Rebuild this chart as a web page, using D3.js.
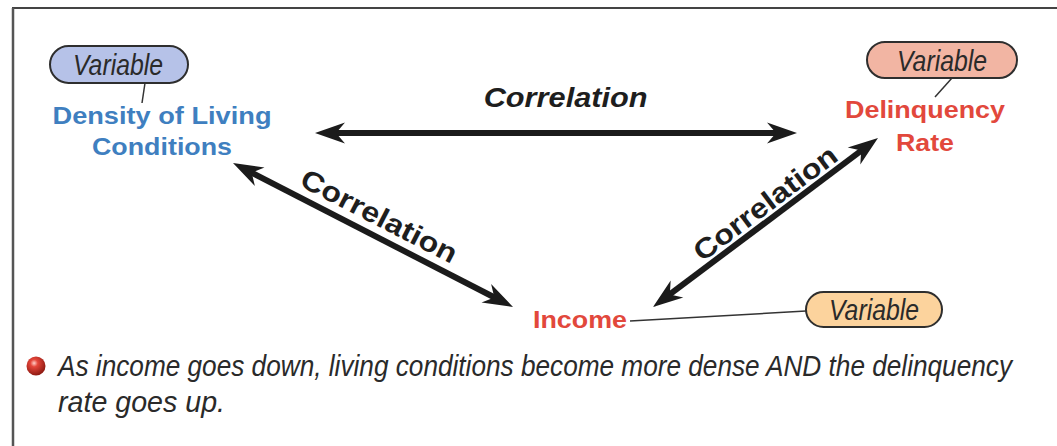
<!DOCTYPE html>
<html>
<head>
<meta charset="utf-8">
<script src="https://cdn.jsdelivr.net/npm/d3@7"></script>
<style>
  html, body { margin: 0; padding: 0; background: #fff; }
  svg { display: block; }
</style>
</head>
<body>
<svg width="1057" height="446"></svg>
<script>
// --- data ---
var variableNames = ["Density of Living Conditions", "Delinquency Rate", "Income"];
var variableLines = [["Density of Living", "Conditions"], ["Delinquency", "Rate"], ["Income"]];
var variableColors = ["#3f7fc0", "#e2483c", "#e2483c"];
var tagLabel = "Variable";
var tagFills = ["#b6c2e8", "#f2b5a3", "#fcd39d"];
var linkPairs = [[0, 1], [0, 2], [2, 1]];
var linkLabels = ["Correlation", "Correlation", "Correlation"];
var noteLines = [
  "As income goes down, living conditions become more dense AND the delinquency",
  "rate goes up."
];

// --- layout (pixel space) ---
var svg = d3.select("svg"),
    width = +svg.attr("width"),
    height = +svg.attr("height");

var x = d3.scaleLinear().domain([0, 1057]).range([0, width]);
var y = d3.scaleLinear().domain([0, 446]).range([0, height]);

var labelPos = [
  { cx: 162, base: [124, 155], w: [219, 140] },
  { cx: 925, base: [118, 151], w: [160, 58] },
  { cx: 580, base: [328], w: [94] }
];
var tagPos = [
  { x: 50, y: 46, w: 138, h: 37, tx: 118, base: 75, pointer: [[145, 83], [142, 103]] },
  { x: 867, y: 42, w: 150, h: 36, tx: 942, base: 71, pointer: [[952, 78], [935, 97]] },
  { x: 806, y: 292, w: 136, h: 35, tx: 874, base: 320, pointer: [[806, 311], [630, 321]] }
];
var arrowPos = [
  { a: [315, 133], b: [797, 133], t: 0.52, off: -26, italic: true },
  { a: [233, 163], b: [513, 307], t: 0.49, off: -10, italic: false },
  { a: [653, 307], b: [878, 138], t: 0.54, off: -6, italic: false }
];

var sans = "'Liberation Sans', Arimo, Helvetica, Arial, Roboto, sans-serif";

// frame
svg.append("line")
    .attr("x1", x(12)).attr("y1", y(8)).attr("x2", x(1057)).attr("y2", y(8))
    .attr("stroke", "#444").attr("stroke-width", 2);
svg.append("line")
    .attr("x1", x(13)).attr("y1", y(8)).attr("x2", x(13)).attr("y2", y(446))
    .attr("stroke", "#555").attr("stroke-width", 2.5);

// arrows
function arrowHead(tip, dir) {
  var L = 30, W = 10.5, N = 0.7;
  var nx = -dir[1], ny = dir[0];
  var bx = tip[0] - dir[0] * L, by = tip[1] - dir[1] * L;
  var path = d3.path();
  path.moveTo(tip[0], tip[1]);
  path.lineTo(bx + nx * W, by + ny * W);
  path.lineTo(tip[0] - dir[0] * L * N, tip[1] - dir[1] * L * N);
  path.lineTo(bx - nx * W, by - ny * W);
  path.closePath();
  return path.toString();
}

var arrows = svg.append("g").attr("class", "arrows");
linkPairs.forEach(function(pair, i) {
  var p = arrowPos[i];
  var a = [x(p.a[0]), y(p.a[1])], b = [x(p.b[0]), y(p.b[1])];
  var dx = b[0] - a[0], dy = b[1] - a[1], len = Math.sqrt(dx * dx + dy * dy);
  var d = [dx / len, dy / len];
  var g = arrows.append("g").attr("class", "link_" + i);
  g.append("line")
      .attr("x1", a[0] + d[0] * 18).attr("y1", a[1] + d[1] * 18)
      .attr("x2", b[0] - d[0] * 18).attr("y2", b[1] - d[1] * 18)
      .attr("stroke", "#1b1b1b").attr("stroke-width", 6);
  g.append("path").attr("d", arrowHead(b, d)).attr("fill", "#1b1b1b");
  g.append("path").attr("d", arrowHead(a, [-d[0], -d[1]])).attr("fill", "#1b1b1b");

  var ang = Math.atan2(dy, dx) * 180 / Math.PI;
  // offset along the normal that points "up" relative to the text
  var mx = a[0] + dx * p.t - d[1] * p.off,
      my = a[1] + dy * p.t + d[0] * p.off;
  g.append("text")
      .attr("transform", "translate(" + mx + "," + my + ") rotate(" + ang + ")")
      .attr("text-anchor", "middle")
      .attr("font-family", sans)
      .attr("font-weight", "bold")
      .attr("font-style", p.italic ? "italic" : "normal")
      .attr("font-size", 28)
      .attr("fill", "#1e1e1e")
      .attr("textLength", i === 0 ? 164 : 172)
      .attr("lengthAdjust", "spacingAndGlyphs")
      .text(linkLabels[i]);
});

// tags ("Variable" pills) with pointers
var tags = svg.append("g").attr("class", "tags");
variableNames.forEach(function(name, i) {
  var t = tagPos[i];
  tags.append("line")
      .attr("x1", x(t.pointer[0][0])).attr("y1", y(t.pointer[0][1]))
      .attr("x2", x(t.pointer[1][0])).attr("y2", y(t.pointer[1][1]))
      .attr("stroke", "#333").attr("stroke-width", 1.5);
  tags.append("rect")
      .attr("x", x(t.x)).attr("y", y(t.y))
      .attr("width", t.w).attr("height", t.h)
      .attr("rx", t.h / 2).attr("ry", t.h / 2)
      .attr("fill", tagFills[i])
      .attr("stroke", "#2e2e2e").attr("stroke-width", 2);
  tags.append("text")
      .attr("x", x(t.tx)).attr("y", y(t.base))
      .attr("text-anchor", "middle")
      .attr("font-family", sans)
      .attr("font-style", "italic")
      .attr("font-size", 30)
      .attr("fill", "#2a2a2a")
      .attr("textLength", 90)
      .attr("lengthAdjust", "spacingAndGlyphs")
      .text(tagLabel);
});

// variable labels
var labels = svg.append("g").attr("class", "labels");
variableLines.forEach(function(lines, i) {
  var lp = labelPos[i];
  lines.forEach(function(line, j) {
    labels.append("text")
        .attr("x", x(lp.cx)).attr("y", y(lp.base[j]))
        .attr("text-anchor", "middle")
        .attr("font-family", sans)
        .attr("font-weight", "bold")
        .attr("font-size", 24)
        .attr("fill", variableColors[i])
        .attr("textLength", lp.w[j])
        .attr("lengthAdjust", "spacingAndGlyphs")
        .text(line);
  });
});

// bullet note
var defs = svg.append("defs");
var grad = defs.append("radialGradient").attr("id", "ball")
    .attr("cx", "40%").attr("cy", "35%").attr("r", "65%");
grad.append("stop").attr("offset", "0%").attr("stop-color", "#ffd0c8");
grad.append("stop").attr("offset", "30%").attr("stop-color", "#e5463a");
grad.append("stop").attr("offset", "100%").attr("stop-color", "#8e1a12");
svg.append("circle")
    .attr("cx", x(36)).attr("cy", y(366)).attr("r", 9.5)
    .attr("fill", "url(#ball)");

var noteWidths = [954, 167];
var noteBase = [376, 412];
noteLines.forEach(function(line, i) {
  svg.append("text")
      .attr("transform", "translate(" + x(58) + "," + y(noteBase[i]) + ") scale(1,1.1)")
      .attr("font-family", sans)
      .attr("font-style", "italic")
      .attr("font-size", 27)
      .attr("fill", "#2a2a2a")
      .attr("textLength", noteWidths[i])
      .attr("lengthAdjust", "spacingAndGlyphs")
      .text(line);
});
</script>
</body>
</html>
